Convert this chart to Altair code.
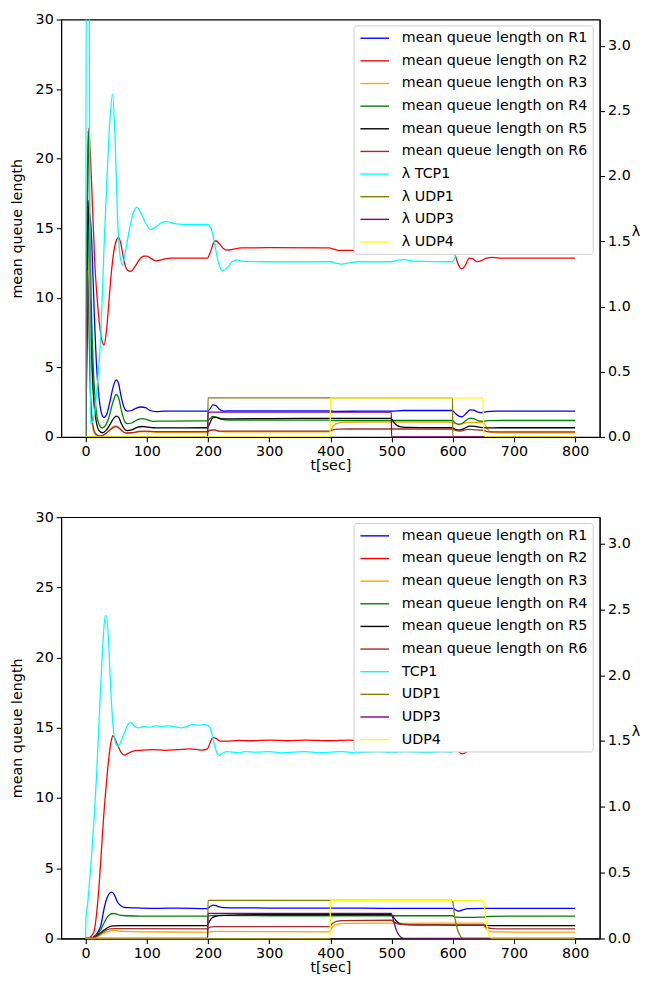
import altair as alt
import pandas as pd

# ---------------- names / colours ----------------
Q_NAMES = ["mean queue length on R1", "mean queue length on R2", "mean queue length on R3",
           "mean queue length on R4", "mean queue length on R5", "mean queue length on R6"]
Q_COLORS = ["#0000ff", "#ff0000", "#ffa500", "#008000", "#000000", "#a52a2a"]
TOP_L_NAMES = ["λ TCP1", "λ UDP1", "λ UDP3", "λ UDP4"]
BOT_L_NAMES = ["TCP1", "UDP1", "UDP3", "UDP4"]
L_COLORS = ["#00ffff", "#808000", "#800080", "#ffff00"]

X_TICKS = [0, 100, 200, 300, 400, 500, 600, 700, 800]
Q_TICKS = [0, 5, 10, 15, 20, 25, 30]
L_TICKS = [0.0, 0.5, 1.0, 1.5, 2.0, 2.5, 3.0]

# ---------------- top panel: queue lengths (t, value) ----------------
TOP_R1 = [(0, 0), (3, 8), (7, 16), (10, 14), (14, 9), (18, 5), (22, 2.8), (26, 1.7), (30, 1.4), (35, 1.7),
          (40, 2.6), (45, 3.6), (50, 4.1), (54, 3.8), (58, 2.9), (63, 2.1), (68, 1.85), (75, 1.9), (82, 2.05),
          (90, 2.15), (98, 2.1), (105, 1.9), (115, 1.82), (130, 1.85), (199, 1.85), (203, 2.0), (208, 2.3),
          (213, 2.25), (218, 2.0), (225, 1.86), (240, 1.88), (300, 1.88), (398, 1.87), (410, 1.84), (450, 1.85),
          (500, 1.86), (520, 1.9), (599, 1.9), (604, 1.7), (610, 1.5), (615, 1.45), (622, 1.7), (628, 1.95),
          (634, 1.92), (640, 1.8), (646, 1.75), (655, 1.82), (670, 1.85), (800, 1.85)]
TOP_R2 = [(0, 0), (2, 12), (5, 22.2), (8, 20), (11, 16.8), (15, 12.5), (20, 9.3), (25, 7.3), (30, 6.6), (34, 7.6),
          (38, 9.7), (42, 11.8), (46, 13.3), (50, 14.1), (54, 14.35), (58, 13.8), (62, 12.8), (68, 12.0), (74, 11.9),
          (80, 12.2), (88, 12.75), (95, 13.0), (100, 13.0), (108, 12.8), (115, 12.65), (125, 12.75), (140, 12.85),
          (199, 12.85), (204, 13.3), (209, 13.95), (213, 14.1), (218, 13.9), (225, 13.55), (232, 13.42), (240, 13.48),
          (255, 13.58), (300, 13.6), (398, 13.58), (405, 13.5), (415, 13.4), (450, 13.4), (498, 13.42), (505, 13.5),
          (515, 13.56), (599, 13.56), (603, 13.2), (608, 12.5), (614, 12.08), (620, 12.3), (627, 12.85), (633, 12.8),
          (639, 12.6), (646, 12.65), (655, 12.85), (665, 12.9), (680, 12.85), (800, 12.85)]
TOP_R3 = [(0, 0), (1.5, 10), (3, 15), (5, 10), (8, 3), (12, 0.6), (17, 0.1), (22, 0.05), (27, 0.08), (33, 0.25),
          (40, 0.55), (46, 0.75), (50, 0.8), (55, 0.65), (60, 0.42), (66, 0.3), (75, 0.3), (88, 0.36), (98, 0.38),
          (115, 0.33), (199, 0.33), (203, 0.45), (210, 0.5), (220, 0.38), (240, 0.36), (398, 0.36), (402, 0.6),
          (406, 0.85), (412, 0.98), (422, 1.05), (450, 1.07), (599, 1.07), (604, 0.95), (612, 0.9), (625, 1.05),
          (640, 1.05), (650, 1.05), (654, 0.8), (658, 0.5), (662, 0.35), (680, 0.3), (800, 0.3)]
TOP_R4 = [(0, 0), (2, 15), (4, 22), (6, 18), (9, 10), (13, 4.5), (17, 2), (22, 0.9), (27, 0.65), (32, 0.8),
          (38, 1.4), (44, 2.4), (50, 3.05), (54, 2.8), (58, 2.0), (63, 1.2), (68, 0.95), (75, 1.0), (85, 1.25),
          (92, 1.32), (100, 1.25), (110, 1.12), (130, 1.14), (199, 1.15), (203, 1.3), (207, 1.48), (212, 1.45),
          (220, 1.3), (235, 1.2), (300, 1.2), (398, 1.2), (410, 1.18), (500, 1.18), (599, 1.18), (604, 1.0),
          (610, 0.9), (616, 1.0), (622, 1.2), (628, 1.35), (635, 1.3), (642, 1.15), (650, 1.12), (660, 1.17),
          (680, 1.18), (800, 1.18)]
TOP_R5 = [(0, 0), (2, 10), (4, 17), (6, 14), (9, 7), (13, 2.8), (17, 1.2), (22, 0.45), (27, 0.3), (33, 0.45),
          (40, 0.9), (46, 1.35), (50, 1.5), (54, 1.4), (58, 1.0), (63, 0.6), (68, 0.45), (75, 0.5), (85, 0.7),
          (93, 0.75), (102, 0.7), (115, 0.65), (199, 0.66), (203, 1.0), (208, 1.38), (214, 1.4), (222, 1.3),
          (235, 1.3), (300, 1.32), (400, 1.33), (499, 1.33), (503, 1.1), (508, 0.85), (515, 0.72), (530, 0.68),
          (599, 0.66), (604, 0.55), (610, 0.5), (618, 0.6), (628, 0.78), (636, 0.75), (645, 0.68), (655, 0.65),
          (680, 0.66), (800, 0.66)]
TOP_R6 = [(0, 0), (2, 8), (3, 12), (5, 9), (8, 3), (12, 0.8), (17, 0.2), (22, 0.08), (27, 0.1), (33, 0.25),
          (40, 0.5), (46, 0.7), (50, 0.75), (55, 0.62), (60, 0.4), (66, 0.28), (75, 0.3), (88, 0.4), (98, 0.42),
          (115, 0.38), (199, 0.38), (203, 0.48), (210, 0.5), (220, 0.42), (240, 0.42), (398, 0.42), (404, 0.5),
          (412, 0.56), (430, 0.57), (599, 0.57), (604, 0.48), (612, 0.42), (625, 0.55), (640, 0.5), (650, 0.48),
          (655, 0.4), (662, 0.36), (700, 0.36), (800, 0.36)]

# ---------------- top panel: lambda ----------------
TOP_TCP1 = [(0, 0), (1.5, 4.5), (5, 4.5), (8, 0.1), (12, 0.12), (15, 0.21), (20, 0.45), (25, 0.8), (30, 1.45),
            (35, 2.0), (40, 2.45), (44, 2.63), (48, 2.3), (52, 1.7), (56, 1.4), (60, 1.32), (65, 1.42), (72, 1.6),
            (78, 1.72), (84, 1.76), (90, 1.72), (97, 1.65), (106, 1.59), (115, 1.61), (125, 1.645), (132, 1.65),
            (145, 1.635), (160, 1.63), (199, 1.63), (205, 1.6), (212, 1.45), (218, 1.32), (224, 1.275), (232, 1.3),
            (240, 1.345), (248, 1.355), (258, 1.345), (300, 1.343), (400, 1.343), (410, 1.33), (418, 1.325),
            (430, 1.335), (445, 1.343), (500, 1.343), (510, 1.355), (520, 1.36), (535, 1.347), (599, 1.343),
            (605, 1.4), (612, 1.58), (619, 1.7), (625, 1.727), (632, 1.69), (640, 1.61), (646, 1.6), (655, 1.64),
            (665, 1.663), (675, 1.645), (690, 1.63), (800, 1.631)]
TOP_UDP1 = [(0, 0), (199.5, 0), (200, 0.3), (599.5, 0.3), (600, 0), (800, 0)]
TOP_UDP3 = [(0, 0), (199.5, 0), (200, 0.19), (499.5, 0.19), (500, 0), (800, 0)]
TOP_UDP4 = [(0, 0), (399.5, 0), (400, 0.3), (649, 0.3), (651, 0.02), (655, 0), (800, 0)]

# ---------------- bottom panel: queue lengths ----------------
BOT_R1 = [(0, 0), (8, 0.03), (14, 0.15), (20, 0.45), (25, 0.95), (30, 2.1), (35, 2.9), (40, 3.25), (43, 3.3),
          (47, 3.1), (52, 2.6), (57, 2.35), (63, 2.22), (70, 2.2), (90, 2.17), (120, 2.15), (150, 2.16), (199, 2.13),
          (204, 2.3), (209, 2.38), (215, 2.3), (225, 2.2), (260, 2.18), (300, 2.17), (400, 2.17), (500, 2.15),
          (599, 2.15), (604, 2.05), (609, 1.95), (615, 2.02), (625, 2.12), (650, 2.15), (800, 2.15)]
BOT_R2 = [(0, 0), (5, 0.05), (10, 0.2), (14, 0.55), (18, 1.8), (22, 3.8), (26, 6.4), (30, 9.0), (34, 11.1),
          (38, 12.9), (42, 14.1), (44.5, 14.45), (47, 14.3), (52, 13.8), (58, 13.25), (64, 13.05), (70, 13.2),
          (78, 13.35), (90, 13.4), (110, 13.45), (130, 13.4), (150, 13.45), (170, 13.5), (190, 13.42), (199, 13.5),
          (203, 13.9), (208, 14.3), (213, 14.25), (220, 14.05), (230, 14.05), (250, 14.1), (270, 14.08),
          (300, 14.12), (330, 14.08), (360, 14.13), (400, 14.08), (430, 14.12), (460, 14.08), (500, 14.12),
          (530, 14.08), (560, 14.12), (599, 14.12), (604, 13.8), (610, 13.3), (616, 13.15), (625, 13.35),
          (640, 13.45), (660, 13.4), (700, 13.45), (740, 13.4), (800, 13.45)]
BOT_R3 = [(0, 0), (10, 0.02), (20, 0.15), (30, 0.4), (40, 0.55), (47, 0.58), (60, 0.5), (90, 0.47), (199, 0.46),
          (210, 0.5), (398, 0.47), (403, 0.8), (410, 1.0), (425, 1.07), (499, 1.1), (510, 1.07), (530, 1.08),
          (649, 1.1), (653, 0.8), (658, 0.55), (665, 0.47), (800, 0.45)]
BOT_R4 = [(0, 0), (10, 0.05), (18, 0.25), (25, 0.65), (30, 1.1), (35, 1.5), (40, 1.72), (45, 1.78), (50, 1.75),
          (55, 1.66), (65, 1.62), (90, 1.6), (199, 1.6), (210, 1.65), (300, 1.62), (500, 1.62), (599, 1.62),
          (605, 1.52), (615, 1.5), (650, 1.52), (660, 1.58), (700, 1.6), (800, 1.6)]
BOT_R5 = [(0, 0), (10, 0.03), (20, 0.25), (30, 0.6), (38, 0.82), (45, 0.9), (60, 0.92), (199, 0.92), (202, 1.2),
          (206, 1.45), (212, 1.58), (225, 1.65), (300, 1.7), (400, 1.7), (499, 1.7), (504, 1.45), (510, 1.15),
          (518, 1.0), (540, 0.97), (600, 0.96), (650, 0.95), (660, 0.92), (800, 0.92)]
BOT_R6 = [(0, 0), (10, 0.03), (20, 0.2), (30, 0.5), (40, 0.68), (50, 0.7), (199, 0.68), (203, 0.8), (210, 0.85),
          (398, 0.85), (403, 1.05), (410, 1.22), (420, 1.28), (499, 1.3), (505, 1.15), (512, 1.02), (530, 0.98),
          (649, 0.97), (654, 0.82), (662, 0.72), (680, 0.68), (800, 0.68)]

# ---------------- bottom panel: lambda ----------------
BOT_TCP1 = [(0, 0), (0.5, 0.15), (3, 0.25), (6, 0.41), (10, 0.65), (14, 0.92), (18, 1.25), (22, 1.66), (26, 2.05),
            (29, 2.3), (32, 2.45), (34, 2.45), (37, 2.3), (40, 2.0), (44, 1.66), (48, 1.5), (53, 1.46), (58, 1.5),
            (64, 1.57), (70, 1.63), (74, 1.64), (80, 1.61), (86, 1.6), (95, 1.61), (105, 1.605), (115, 1.615),
            (125, 1.61), (135, 1.615), (145, 1.61), (155, 1.6), (165, 1.61), (175, 1.625), (185, 1.62),
            (195, 1.625), (199, 1.62), (203, 1.6), (208, 1.52), (213, 1.43), (218, 1.39), (222, 1.4), (230, 1.42),
            (240, 1.415), (250, 1.41), (260, 1.42), (280, 1.415), (300, 1.42), (320, 1.41), (340, 1.415),
            (360, 1.42), (380, 1.41), (400, 1.415), (420, 1.42), (440, 1.41), (460, 1.415), (480, 1.42),
            (500, 1.41), (520, 1.42), (540, 1.415), (560, 1.41), (580, 1.42), (598, 1.415), (603, 1.45),
            (608, 1.55), (613, 1.62), (618, 1.635), (625, 1.615), (640, 1.61), (660, 1.605), (680, 1.615),
            (700, 1.61), (720, 1.615), (740, 1.605), (760, 1.61), (780, 1.615), (800, 1.61)]
BOT_UDP1 = [(0, 0), (199.5, 0), (200, 0.29), (599.5, 0.29), (600, 0.28), (603, 0.17), (607, 0.08), (611, 0.03),
            (616, 0), (800, 0)]
BOT_UDP3 = [(0, 0), (199.5, 0), (200, 0.19), (499.5, 0.19), (500, 0.185), (504, 0.12), (508, 0.06), (513, 0.02),
            (520, 0), (800, 0)]
BOT_UDP4 = [(0, 0), (399.5, 0), (400, 0.29), (649.5, 0.29), (651, 0.26), (654, 0.15), (657, 0.06), (661, 0.01),
            (665, 0), (800, 0)]

FONT = "DejaVu Sans"
FS = 14.5
LEGEND_LINE = "M-0.857,0L3.286,0"   # a ~29px horizontal stroke for the legend handles


def frame(series, names):
    rows = []
    for name, pts in zip(names, series):
        for t, v in pts:
            rows.append({"series": name, "t": t, "v": v})
    return pd.DataFrame(rows)


def panel(q_series, l_series, l_names, height, lam_title_y):
    names = Q_NAMES + l_names
    colors = Q_COLORS + L_COLORS
    color = alt.Color(
        "series:N",
        scale=alt.Scale(domain=names, range=colors),
        sort=names,
        legend=alt.Legend(
            title=None, orient="none", legendX=297, legendY=6, symbolType=LEGEND_LINE, symbolSize=196,
            symbolStrokeWidth=1.4, labelFont=FONT, labelFontSize=FS, labelColor="black", labelLimit=0,
            labelOffset=28, rowPadding=8, padding=5, strokeColor="#cccccc", fillColor="white",
            cornerRadius=3,
        ),
    )
    x = alt.X("t:Q", scale=alt.Scale(domain=[-40, 840], nice=False, zero=False),
              axis=alt.Axis(values=X_TICKS, title="t[sec]", format="d", titlePadding=1))
    q = alt.Chart(frame(q_series, Q_NAMES)).mark_line(
        strokeWidth=1.3, interpolate="monotone", clip=True
    ).encode(
        x=x,
        y=alt.Y("v:Q", scale=alt.Scale(domain=[0, 30], nice=False),
                axis=alt.Axis(values=Q_TICKS, title="mean queue length", titlePadding=10.5)),
        color=color,
    )
    l = alt.Chart(frame(l_series, l_names)).mark_line(
        strokeWidth=1.3, interpolate="monotone", clip=True
    ).encode(
        x=x,
        y=alt.Y("v:Q", scale=alt.Scale(domain=[0, 3.2], nice=False),
                axis=alt.Axis(values=L_TICKS, format=".1f", orient="right", title="λ", titleAngle=0,
                              titleX=32, titleY=lam_title_y, titleAlign="left", titleBaseline="middle")),
        color=color,
    )
    return alt.layer(q, l).resolve_scale(y="independent").properties(width=547, height=height)


top = panel([TOP_R1, TOP_R2, TOP_R3, TOP_R4, TOP_R5, TOP_R6],
            [TOP_TCP1, TOP_UDP1, TOP_UDP3, TOP_UDP4], TOP_L_NAMES, 424, 215)
bottom = panel([BOT_R1, BOT_R2, BOT_R3, BOT_R4, BOT_R5, BOT_R6],
               [BOT_TCP1, BOT_UDP1, BOT_UDP3, BOT_UDP4], BOT_L_NAMES, 428, 218)

chart = alt.vconcat(top, bottom, spacing=35.5).resolve_scale(color="independent").properties(
    padding={"left": 1, "top": -5, "right": 0, "bottom": 0}
).configure_axis(
    labelFont=FONT, labelFontSize=FS, labelColor="black", titleFont=FONT, titleFontSize=FS,
    titleFontWeight="normal", titleColor="black", tickColor="black", domainColor="black",
    tickSize=5, tickWidth=1.1, domainWidth=1.1, grid=False, labelPadding=3, zindex=1,
).configure_view(stroke="black", strokeWidth=1.1).configure_legend(
    labelFont=FONT
)

chart.save("out.html", embed_options={"renderer": "svg", "actions": False})
